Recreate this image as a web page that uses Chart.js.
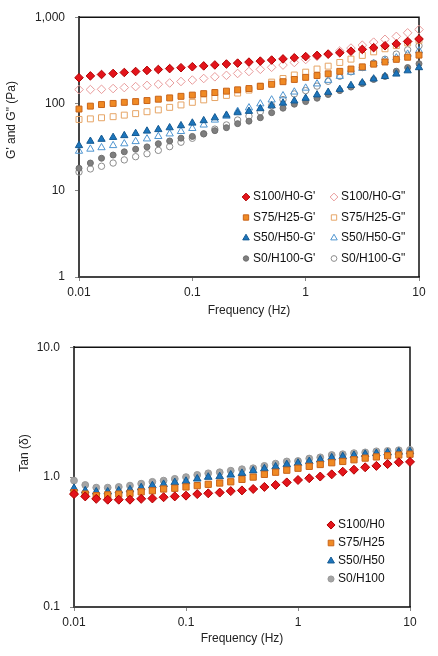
<!DOCTYPE html>
<html>
<head>
<meta charset="utf-8">
<script src="https://cdn.jsdelivr.net/npm/chart.js@4.4.1/dist/chart.umd.min.js"></script>
<style>
body { margin: 0; background: #fff; width: 438px; height: 656px; overflow: hidden; position: relative; }
.box { position: absolute; left: 0; width: 438px; }
#top { top: 0; height: 325px; }
#bottom { top: 330px; height: 326px; }
</style>
</head>
<body>
<div class="box" id="top"><canvas id="modulusChart" width="438" height="325"></canvas></div>
<div class="box" id="bottom"><canvas id="tanChart" width="438" height="326"></canvas></div>
<script>
// frequency sweep, Hz
let freq = [0.01, 0.0126, 0.0158, 0.02, 0.0251, 0.0316, 0.0398, 0.0501, 0.0631, 0.0794,
            0.1, 0.126, 0.158, 0.2, 0.251, 0.316, 0.398, 0.501, 0.631, 0.794,
            1, 1.26, 1.58, 2, 2.51, 3.16, 3.98, 5.01, 6.31, 7.94, 10];

// G' and G'' (Pa)
let s100G1 = [200, 210, 218, 224, 230, 236, 243, 249, 255, 261, 268, 274, 281, 288, 295, 303, 311, 320, 330, 340, 351, 362, 374, 388, 405, 425, 445, 468, 492, 525, 560];
let s100G2 = [146, 146, 147, 150, 154, 158, 163, 168, 174, 181, 188, 196, 205, 213, 224, 236, 250, 264, 280, 300, 325, 352, 378, 408, 440, 475, 515, 555, 600, 660, 720];
let s75G1 = [87, 94, 98, 101, 104, 106, 109, 113, 117, 122, 126, 131, 135, 140, 145, 150, 159, 168, 180, 191, 202, 212, 222, 237, 252, 267, 287, 304, 326, 345, 365];
let s75G2 = [66, 67, 69, 71, 74, 77, 81, 85, 91, 97, 104, 111, 118, 125, 133, 144, 160, 178, 196, 215, 232, 252, 272, 300, 328, 362, 398, 432, 470, 505, 540];
let s50G1 = [33, 37, 39, 41, 43, 45.5, 48.5, 50.5, 53, 56, 60, 64, 69, 74, 79, 82, 88, 95, 102, 108, 116, 127, 136, 147, 163, 175, 194, 207, 221, 241, 262];
let s50G2 = [28.4, 30, 31.2, 33, 34.6, 36.7, 39.4, 42, 45, 48, 52, 57, 65, 72, 82, 90, 100, 111, 124, 137, 152, 170, 187, 208, 232, 257, 290, 315, 340, 375, 410];
let s0G1 = [18, 20.7, 23.5, 25.6, 27.9, 29.9, 31.8, 34.6, 37.2, 40.1, 42, 45, 49, 53, 59, 63, 69, 79, 89, 99, 106, 116, 128, 142, 156, 171, 191, 207, 238, 262, 290];
let s0G2 = [16.3, 17.7, 19, 20.7, 22.5, 24.5, 26.5, 29, 32, 36, 40, 45, 51, 57, 65, 72, 81, 95, 112, 130, 142, 160, 182, 208, 234, 262, 295, 327, 375, 420, 468];

// tan(delta)
let tan100 = [0.74, 0.71, 0.68, 0.67, 0.67, 0.67, 0.68, 0.685, 0.70, 0.71, 0.72, 0.74, 0.75, 0.76, 0.78, 0.79, 0.81, 0.84, 0.87, 0.91, 0.95, 0.98, 1.01, 1.05, 1.10, 1.14, 1.19, 1.22, 1.26, 1.30, 1.31];
let tan75 = [0.76, 0.74, 0.72, 0.73, 0.74, 0.75, 0.77, 0.785, 0.81, 0.82, 0.84, 0.86, 0.88, 0.90, 0.92, 0.96, 1.0, 1.05, 1.09, 1.13, 1.17, 1.21, 1.25, 1.29, 1.32, 1.36, 1.40, 1.43, 1.46, 1.48, 1.50];
let tan50 = [0.82, 0.785, 0.77, 0.77, 0.785, 0.80, 0.83, 0.86, 0.88, 0.91, 0.93, 0.97, 1.0, 1.01, 1.04, 1.07, 1.12, 1.16, 1.2, 1.25, 1.28, 1.32, 1.36, 1.41, 1.44, 1.47, 1.50, 1.52, 1.54, 1.56, 1.57];
let tan0 = [0.94, 0.87, 0.83, 0.83, 0.84, 0.86, 0.89, 0.92, 0.94, 0.97, 1.0, 1.04, 1.07, 1.09, 1.12, 1.15, 1.17, 1.22, 1.27, 1.32, 1.33, 1.39, 1.42, 1.48, 1.50, 1.53, 1.55, 1.58, 1.59, 1.61, 1.62];

// tick labels
let xTicks = [0.01, 0.1, 1, 10];
let xTickLabels = ['0.01', '0.1', '1', '10'];
let gTicks = [1, 10, 100, 1000];
let gTickLabels = ['1', '10', '100', '1,000'];
let tanTicks = [0.1, 1, 10];
let tanTickLabels = ['0.1', '1.0', '10.0'];

const FONT = '"Liberation Sans", Arial, sans-serif';
const NONE = 'rgba(0,0,0,0)';

function points(values) {
    return values.map((v, i) => ({ x: freq[i], y: v }));
}

function series(label, values, style, radius, fill, border) {
    return {
        label: label,
        data: points(values),
        pointStyle: style,
        pointRadius: radius,
        pointHoverRadius: radius,
        backgroundColor: fill,
        borderColor: border,
        borderWidth: 1,
        showLine: false,
        clip: false
    };
}

// box border on top and right
const frame = {
    id: 'frame',
    beforeDatasetsDraw(chart) {
        const a = chart.chartArea, ctx = chart.ctx;
        ctx.save();
        ctx.strokeStyle = '#111';
        ctx.lineWidth = 1.5;
        ctx.beginPath();
        ctx.moveTo(a.left, a.top);
        ctx.lineTo(a.right, a.top);
        ctx.lineTo(a.right, a.bottom);
        ctx.stroke();
        ctx.restore();
    }
};

const sideTitle = {
    id: 'sideTitle',
    afterDraw(chart, args, opts) {
        const ctx = chart.ctx;
        ctx.save();
        ctx.translate(opts.x, opts.y);
        ctx.rotate(-Math.PI / 2);
        ctx.font = '12px ' + FONT;
        ctx.fillStyle = '#222';
        ctx.textAlign = 'center';
        ctx.textBaseline = 'middle';
        ctx.fillText(opts.text, 0, 0);
        ctx.restore();
    }
};

const insideLegend = {
    id: 'insideLegend',
    afterDraw(chart, args, opts) {
        const ctx = chart.ctx;
        ctx.save();
        ctx.font = '12px ' + FONT;
        ctx.textBaseline = 'middle';
        ctx.textAlign = 'left';
        chart.data.datasets.forEach((ds, i) => {
            const col = i % opts.columns, row = Math.floor(i / opts.columns);
            const x = opts.x + col * opts.colGap, y = opts.y + row * opts.rowGap;
            ctx.fillStyle = ds.backgroundColor;
            ctx.strokeStyle = ds.borderColor;
            ctx.lineWidth = ds.borderWidth;
            Chart.helpers.drawPoint(ctx, { pointStyle: ds.pointStyle, radius: ds.pointRadius * 0.9, rotation: 0, borderWidth: ds.borderWidth }, x, y);
            ctx.fillStyle = '#111';
            ctx.fillText(ds.label, x + opts.textGap, y);
        });
        ctx.restore();
    }
};

function logAxis(min, max, ticks, labels, opts) {
    return {
        type: 'logarithmic',
        min: min,
        max: max,
        afterBuildTicks: (scale) => { scale.ticks = ticks.map(v => ({ value: v })); },
        afterFit: opts.fit,
        border: { display: true, color: '#444', width: 2 },
        grid: { display: true, drawOnChartArea: false, drawTicks: true, tickLength: 4, color: '#888' },
        ticks: {
            autoSkip: false,
            maxRotation: 0,
            padding: opts.pad,
            color: '#222',
            font: { family: FONT, size: 12 },
            callback: (value, index) => labels[index]
        },
        title: opts.title || { display: false }
    };
}

let modulusChart = new Chart(document.getElementById('modulusChart').getContext('2d'), {
    type: 'scatter',
    data: {
        datasets: [
            series("S100/H0-G'", s100G1, 'rectRot', 4.3, '#E3141B', '#B00000'),
            series('S100/H0-G"', s100G2, 'rectRot', 4.3, NONE, '#E89A9A'),
            series("S75/H25-G'", s75G1, 'rect', 4.2, '#F08A24', '#C8641A'),
            series('S75/H25-G"', s75G2, 'rect', 4.2, NONE, '#E6A566'),
            series("S50/H50-G'", s50G1, 'triangle', 4.2, '#1C75BC', '#155A92'),
            series('S50/H50-G"', s50G2, 'triangle', 4.2, NONE, '#4F95D0'),
            series("S0/H100-G'", s0G1, 'circle', 3, '#7F7F7F', '#6E6E6E'),
            series('S0/H100-G"', s0G2, 'circle', 3.2, NONE, '#8C8C8C')
        ]
    },
    plugins: [frame, sideTitle, insideLegend],
    options: {
        responsive: false,
        animation: false,
        layout: { padding: { left: 0, right: 19, top: 10, bottom: 0 } },
        scales: {
            x: logAxis(0.01, 10, xTicks, xTickLabels, {
                pad: 4,
                fit: (s) => { s.height = 48; },
                title: { display: true, text: 'Frequency (Hz)', color: '#222', font: { family: FONT, size: 12 }, padding: { top: 0, bottom: 7 } }
            }),
            y: logAxis(1, 1000, gTicks, gTickLabels, {
                pad: 10,
                fit: (s) => { s.width = 79; }
            })
        },
        plugins: {
            legend: { display: false },
            tooltip: { enabled: false },
            sideTitle: { text: 'G\' and G" (Pa)', x: 12, y: 120 },
            insideLegend: { x: 246, y: 197, columns: 2, colGap: 88, rowGap: 20.5, textGap: 7 }
        }
    }
});

let tanChart = new Chart(document.getElementById('tanChart').getContext('2d'), {
    type: 'scatter',
    data: {
        datasets: [
            series('S100/H0', tan100, 'rectRot', 4.5, '#E3141B', '#B00000'),
            series('S75/H25', tan75, 'rect', 4.4, '#F08A24', '#C8641A'),
            series('S50/H50', tan50, 'triangle', 4.4, '#1C75BC', '#155A92'),
            series('S0/H100', tan0, 'circle', 3.4, '#A5A5A5', '#999999')
        ]
    },
    plugins: [frame, sideTitle, insideLegend],
    options: {
        responsive: false,
        animation: false,
        layout: { padding: { left: 0, right: 28, top: 17, bottom: 0 } },
        scales: {
            x: logAxis(0.01, 10, xTicks, xTickLabels, {
                pad: 4,
                fit: (s) => { s.height = 49; },
                title: { display: true, text: 'Frequency (Hz)', color: '#222', font: { family: FONT, size: 12 }, padding: { top: 0, bottom: 10 } }
            }),
            y: logAxis(0.1, 10, tanTicks, tanTickLabels, {
                pad: 10,
                fit: (s) => { s.width = 74; }
            })
        },
        plugins: {
            legend: { display: false },
            tooltip: { enabled: false },
            sideTitle: { text: 'Tan (δ)', x: 25, y: 123 },
            insideLegend: { x: 331, y: 195, columns: 1, colGap: 0, rowGap: 18, textGap: 7 }
        }
    }
});
</script>
</body>
</html>
